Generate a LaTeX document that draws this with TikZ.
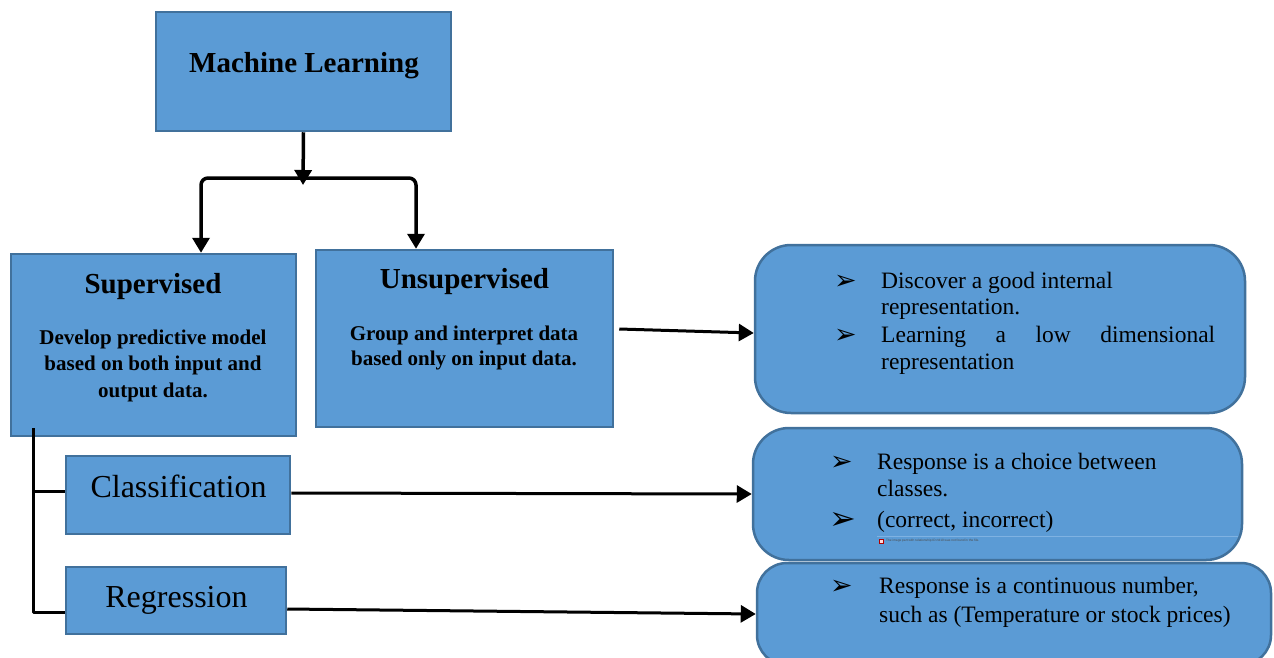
\documentclass[tikz,border=0pt]{standalone}
\usepackage{fontspec}
\setmainfont{Liberation Serif}
\newfontfamily\bulletfont{DejaVu Sans}
\newfontfamily\notefont{Liberation Sans}
\usetikzlibrary{arrows.meta}

\definecolor{fillc}{HTML}{5B9BD5}
\definecolor{bordc}{HTML}{41719C}
\definecolor{notec}{HTML}{7FB2E2}

\newcommand\ttlfont{\fontsize{29}{30}\selectfont\bfseries}
\newcommand\descfont{\fontsize{21}{22}\selectfont\bfseries}
\newcommand\leaffont{\fontsize{32}{33}\selectfont}
\newcommand\itemfont{\fontsize{23.5}{25}\selectfont}

\begin{document}
\begin{tikzpicture}[x=1pt,y=-1pt,
  box/.style={draw=bordc, fill=fillc, line width=2.5pt, inner sep=0pt},
  rbox/.style={box, rounded corners=36pt},
  conn/.style={line width=3.5pt, line join=round},
  arrowed/.style={-{Triangle[length=15pt,width=17pt]}},
  txt/.style={anchor=base, inner sep=0pt},
  ltxt/.style={anchor=base west, inner sep=0pt, font=\itemfont},
  bul/.style={anchor=base west, inner sep=0pt, font=\bulletfont\fontsize{27}{28}\selectfont},
]
\useasboundingbox (0,0) rectangle (1274,657);

% --- boxes of the tree ---
\node[box, minimum width=295, minimum height=119] (ml)  at (303.5,71.5) {};
\node[box, minimum width=285, minimum height=182] (sup) at (153.5,345) {};
\node[box, minimum width=297, minimum height=177] (uns) at (464.5,338.5) {};
\node[box, minimum width=224, minimum height=78]  (cls) at (178,495) {};
\node[box, minimum width=220, minimum height=67]  (reg) at (176,600.5) {};

% --- rounded boxes with the explanations ---
\node[rbox, minimum width=490, minimum height=168] (b1) at (1000,329) {};
\node[rbox, minimum width=489, minimum height=132] (b2) at (997.5,494) {};
\node[rbox, rounded corners=30pt, minimum width=514, minimum height=102] (b3) at (1014,614) {};

% --- labels of the tree ---
\node[txt, font=\ttlfont] (mlt) at (304,72) {Machine Learning};
\node[txt, font=\ttlfont] (supt) at (153,293) {Supervised};
\node[txt, font=\descfont] (sd1) at (153,344) {Develop predictive model};
\node[txt, font=\descfont] (sd2) at (153,370.5) {based on both input and};
\node[txt, font=\descfont] (sd3) at (153,397) {output data.};
\node[txt, font=\ttlfont] (unst) at (464.5,288) {Unsupervised};
\node[txt, font=\descfont] (ud1) at (464,340) {Group and interpret data};
\node[txt, font=\descfont] (ud2) at (464,365) {based only on input data.};
\node[txt, font=\leaffont] (clst) at (178.5,497) {Classification};
\node[txt, font=\leaffont] (regt) at (176.5,607) {Regression};

% --- items of the first rounded box ---
\node[bul] (k1) at (834,289) {➢};
\node[ltxt] (i1a) at (881,288) {Discover a good internal};
\node[ltxt] (i1b) at (881,314.5) {representation.};
\node[bul] (k2) at (834,343.5) {➢};
\node[ltxt] (i2a) at (881,342.5) {\makebox[334pt][s]{Learning\hfill a\hfill low\hfill dimensional}};
\node[ltxt] (i2b) at (881,369) {representation};

% --- items of the second rounded box ---
\node[bul] (k3) at (830,470) {➢};
\node[ltxt] (i3a) at (877,469) {Response is a choice between};
\node[ltxt] (i3b) at (877,496) {classes.};
\node[bul, font=\bulletfont\fontsize{32}{33}\selectfont] (k4) at (829,529) {➢};
\node[ltxt] (i4a) at (877,527) {(correct, incorrect)};
\draw[notec, line width=0.8pt] (877,536) -- (1238,536);
\node[draw=red!70!black, fill=red!15, minimum size=4pt, inner sep=0pt] (mis) at (881,541) {};
\node[anchor=west, inner sep=0pt, font=\notefont\fontsize{3.2}{3.5}\selectfont, text=black!70] (misnote) at (886,541)
  {The image part with relationship ID rId10 was not found in the file.};

% --- item of the third rounded box ---
\node[bul] (k5) at (830,594.5) {➢};
\node[ltxt] (i5a) at (879,593.5) {Response is a continuous number,};
\node[ltxt] (i5b) at (879,622) {such as (Temperature or stock prices)};

% --- connectors ---
\coordinate (hub) at (303,178);
\coordinate (hubtip) at (303,185);
\draw[conn, arrowed] (ml.south) -- (hubtip);
\draw[conn, {Triangle[length=15pt,width=17pt]}-{Triangle[length=15pt,width=17pt]}, rounded corners=7pt]
  ([xshift=47.5pt]sup.north) |- (hub) -| ([xshift=-48.5pt]uns.north);

\coordinate (treetop) at (33,428);
\draw[conn, line width=3pt] (treetop) |- ([yshift=4pt]cls.west);
\draw[conn, line width=3pt] (treetop) |- ([yshift=-11.5pt]reg.west);

\draw[conn, line width=3pt, arrowed] ([xshift=5pt,yshift=9.5pt]uns.east) -- ([yshift=-4pt]b1.west);
\draw[conn, line width=3pt, arrowed] ([yshift=2pt]cls.east) -- (b2.west);
\draw[conn, line width=3pt, arrowed] ([yshift=-8.5pt]reg.east) -- (b3.west);
\end{tikzpicture}
\end{document}
